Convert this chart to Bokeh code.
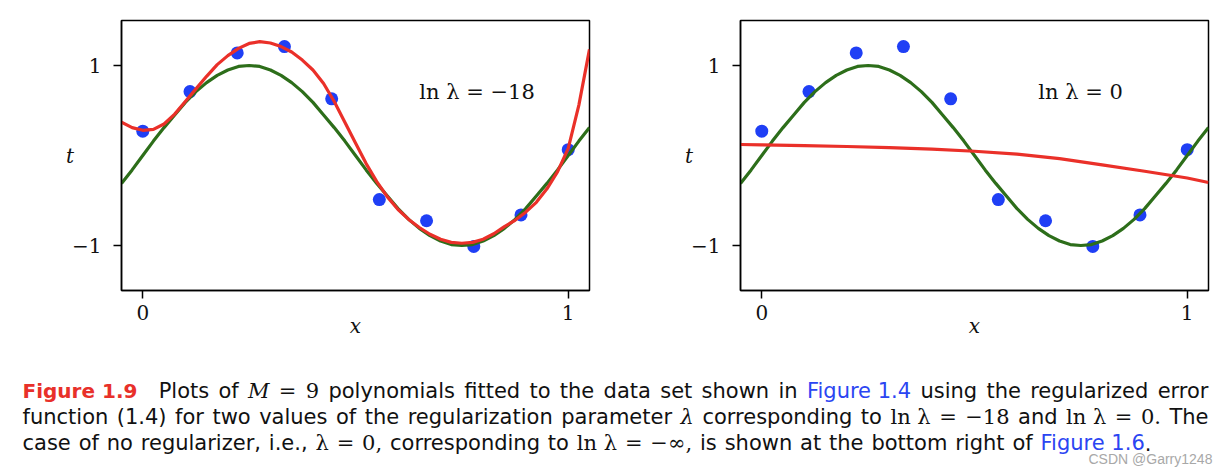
import subprocess
from bokeh.plotting import figure
from bokeh.models import Range1d, FixedTicker, Label, ColumnDataSource, CustomJSTickFormatter
from bokeh.layouts import column, row
from bokeh.core.properties import value, field
from bokeh.embed import file_html
from bokeh.resources import INLINE

# ---------------- data ----------------
x_points = [0.0, 0.111, 0.222, 0.333, 0.444, 0.556, 0.667, 0.778, 0.889, 1.0]
t_points = [0.27, 0.71, 1.14, 1.21, 0.63, -0.49, -0.725, -1.01, -0.66, 0.065]

x_curve = [-0.05, -0.025, 0.0, 0.025, 0.05, 0.075, 0.1, 0.125, 0.15, 0.175, 0.2, 0.225,
           0.25, 0.275, 0.3, 0.325, 0.35, 0.375, 0.4, 0.425, 0.45, 0.475, 0.5, 0.525,
           0.55, 0.575, 0.6, 0.625, 0.65, 0.675, 0.7, 0.725, 0.75, 0.775, 0.8, 0.825,
           0.85, 0.875, 0.9, 0.925, 0.95, 0.975, 1.0, 1.025, 1.05]
green_t = [-0.31, -0.16, 0.0, 0.16, 0.31, 0.45, 0.59, 0.71, 0.81, 0.89, 0.95, 0.99,
           1.0, 0.99, 0.95, 0.89, 0.81, 0.71, 0.59, 0.45, 0.31, 0.16, 0.0, -0.16,
           -0.31, -0.45, -0.59, -0.71, -0.81, -0.89, -0.95, -0.99, -1.0, -0.99, -0.95, -0.89,
           -0.81, -0.71, -0.59, -0.45, -0.31, -0.16, 0.0, 0.16, 0.31]
red_left_t = [0.37, 0.31, 0.28, 0.29, 0.35, 0.46, 0.60, 0.74, 0.88, 1.01, 1.11, 1.19,
              1.245, 1.265, 1.25, 1.21, 1.15, 1.06, 0.95, 0.80, 0.60, 0.37, 0.14, -0.09,
              -0.29, -0.46, -0.60, -0.71, -0.80, -0.875, -0.93, -0.965, -0.975, -0.965, -0.93, -0.87,
              -0.79, -0.72, -0.63, -0.52, -0.37, -0.18, 0.08, 0.56, 1.18]
x_red_right = [-0.05, 0.0, 0.1, 0.2, 0.3, 0.4, 0.5, 0.6, 0.7, 0.8, 0.9, 1.0, 1.05]
red_right_t = [0.122, 0.118, 0.11, 0.10, 0.087, 0.07, 0.047, 0.015, -0.035, -0.105, -0.175, -0.25, -0.30]

x_ticks = [0, 1]
y_ticks = [-1, 1]
panel_labels = ["ln λ = −18", "ln λ = 0"]
x_label = "x"
y_label = "t"

caption_lines = [
    [(["Figure 1.9"], "bold", "red"), ("Plots of", "sans", "k"), (["M"], "mi", "k"), (["=", "9"], "math", "k"),
     ("polynomials fitted to the data set shown in", "sans", "k"), (["Figure 1.4"], "sans", "blue"),
     ("using the regularized error", "sans", "k")],
    [("function (1.4) for two values of the regularization parameter", "sans", "k"), (["λ"], "mi", "k"),
     ("corresponding to", "sans", "k"), (["ln λ", "=", "−18"], "math", "k"), ("and", "sans", "k"),
     (["ln λ", "=", "0."], "math", "k"), ("The", "sans", "k")],
    [("case of no regularizer, i.e.,", "sans", "k"), (["λ", "=", "0,"], "math", "k"),
     ("corresponding to", "sans", "k"), (["ln λ", "=", "−∞,"], "math", "k"),
     ("is shown at the bottom right of", "sans", "k"), (["Figure 1.6"], "sans", "blue"),
     (["."], "sans", "k", "attach")],
]
caption_justify = [True, True, False]
watermark = "CSDN @Garry1248"

# ---------------- styles ----------------
BLUE_PT = "#1f3ff5"
GREEN = "#2d6e1a"
RED = "#ea3029"
SERIF = "DejaVu Serif"
SANS = "DejaVu Sans"
COLORS = {"k": "#111111", "red": "#e8302a", "blue": "#2b45f2"}


def make_panel(red_x, red_t, label, width, left_b, right_b):
    p = figure(width=width, height=348, x_range=Range1d(-0.05, 1.05), y_range=Range1d(-1.5, 1.5),
               output_backend="svg", toolbar_location=None,
               min_border_left=left_b, min_border_right=right_b, min_border_top=20, min_border_bottom=58)
    p.grid.visible = False
    p.outline_line_color = "black"
    p.outline_line_width = 1.5
    p.outline_line_alpha = 1.0
    p.background_fill_color = "white"
    p.border_fill_color = "white"
    fmt = CustomJSTickFormatter(code="return (tick < 0 ? '\\u2212' : '') + Math.abs(tick).toFixed(0);")
    for ax in (p.xaxis[0], p.yaxis[0]):
        ax.major_tick_out = 8
        ax.major_tick_in = 0
        ax.minor_tick_out = 0
        ax.minor_tick_in = 0
        ax.major_tick_line_width = 1.5
        ax.major_tick_line_color = "black"
        ax.axis_line_width = 1.5
        ax.axis_line_color = "black"
        ax.major_label_text_font = SERIF
        ax.major_label_text_font_size = "20px"
        ax.major_label_text_color = "#111111"
        ax.formatter = fmt
        ax.axis_label_text_font = SERIF
        ax.axis_label_text_font_style = "italic"
        ax.axis_label_text_font_size = "20px"
        ax.axis_label_text_color = "#111111"
    xa, ya = p.xaxis[0], p.yaxis[0]
    xa.ticker = FixedTicker(ticks=x_ticks)
    ya.ticker = FixedTicker(ticks=y_ticks)
    xa.major_label_standoff = 6
    ya.major_label_standoff = 12
    xa.axis_label = x_label
    xa.axis_label_standoff = -9
    ya.axis_label = y_label
    ya.axis_label_standoff = -5
    if "axis_label_orientation" in ya.properties():
        ya.axis_label_orientation = "horizontal"
        ya.axis_label_text_baseline = "top"

    p.scatter(x_points, t_points, size=13, fill_color=BLUE_PT, line_color=None)
    p.line(x_curve, green_t, line_color=GREEN, line_width=3.2)
    p.line(red_x, red_t, line_color=RED, line_width=3.2)

    p.add_layout(Label(x=0.65, y=0.71, text=label, text_font=SERIF, text_font_size="21px",
                       text_color="#111111", text_align="left", text_baseline="alphabetic"))
    return p


p1 = make_panel(x_curve, red_left_t, panel_labels[0], 640, 121, 51)
p2 = make_panel(x_red_right, red_right_t, panel_labels[1], 586, 100, 18)

# ---------------- caption ----------------
SIZES = {"sans": 21, "bold": 20, "math": 21, "mi": 21}
FAM = {"sans": (SANS, "Book"), "bold": (SANS, "Bold"), "math": (SERIF, "Book"), "mi": (SERIF, "Italic")}
FILES = {"sans": "DejaVuSans.ttf", "bold": "DejaVuSans-Bold.ttf", "math": "DejaVuSerif.ttf",
         "mi": "DejaVuSerif-Italic.ttf"}


def load_font(kind):
    try:
        from PIL import ImageFont
    except Exception:
        return None
    try:
        return ImageFont.truetype(FILES[kind], SIZES[kind])
    except Exception:
        pass
    try:
        fam, sty = FAM[kind]
        path = subprocess.run(["fc-match", "-f", "%{file}", f"{fam}:style={sty}"],
                              capture_output=True, text=True, timeout=5).stdout.strip()
        return ImageFont.truetype(path, SIZES[kind])
    except Exception:
        return None


FONTS = {k: load_font(k) for k in SIZES}


def text_w(s, kind):
    f = FONTS.get(kind)
    if f is not None:
        try:
            return float(f.getlength(s))
        except Exception:
            pass
    return 0.58 * SIZES[kind] * len(s)


space_w = text_w(" ", "sans")
LEFT, RIGHT = 22.0, 1208.0
BASELINES = [42.0, 68.0, 94.0]

cx, cy, ct, cf, cs, cc, csz = [], [], [], [], [], [], []
for li, segs in enumerate(caption_lines):
    toks = []  # (text, kind, color, glue)
    for seg in segs:
        txt, kind, col = seg[0], seg[1], seg[2]
        attach = len(seg) > 3 and seg[3] == "attach"
        words = txt if isinstance(txt, list) else txt.split(" ")
        for wi, w in enumerate(words):
            glue = "sp"
            if wi == 0 and attach:
                glue = "none"
            toks.append([w, kind, col, glue])
    toks[0][3] = "none"
    if li == 0:
        toks[1][3] = "quad"
    widths = [text_w(t[0], t[1]) for t in toks]
    n_gaps = sum(1 for t in toks if t[3] != "none")
    quad_extra = 12.0 if li == 0 else 0.0
    if caption_justify[li]:
        gap = (RIGHT - LEFT - sum(widths) - quad_extra) / max(n_gaps, 1)
    else:
        gap = space_w + 1.2
    x = LEFT
    for t, w in zip(toks, widths):
        if t[3] == "sp":
            x += gap
        elif t[3] == "quad":
            x += gap + quad_extra
        cx.append(x)
        cy.append(BASELINES[li])
        ct.append(t[0])
        cf.append(FAM[t[1]][0])
        cs.append("bold" if t[1] == "bold" else ("italic" if t[1] == "mi" else "normal"))
        cc.append(COLORS[t[2]])
        csz.append(f"{SIZES[t[1]]}px")
        x += w

cap = figure(width=1226, height=122, x_range=Range1d(0, 1226), y_range=Range1d(122, 0),
             output_backend="svg", toolbar_location=None, x_axis_type=None, y_axis_type=None,
             min_border=0)
cap.grid.visible = False
cap.outline_line_color = None
cap_src = ColumnDataSource(dict(x=cx, y=cy, text=ct, font=cf, style=cs, color=cc, size=csz))
cap.text(x="x", y="y", text="text", source=cap_src, text_font=field("font"),
         text_font_style=field("style"), text_color=field("color"), text_font_size=field("size"),
         text_align="left", text_baseline="alphabetic")
cap.text(x=[1088], y=[110], text=[watermark], text_font=value("Liberation Sans"),
         text_font_size="14px", text_color="#a8a8a8", text_align="left", text_baseline="alphabetic")

layout = column(row(p1, p2), cap)
open("out.html", "w").write(file_html(layout, INLINE))
